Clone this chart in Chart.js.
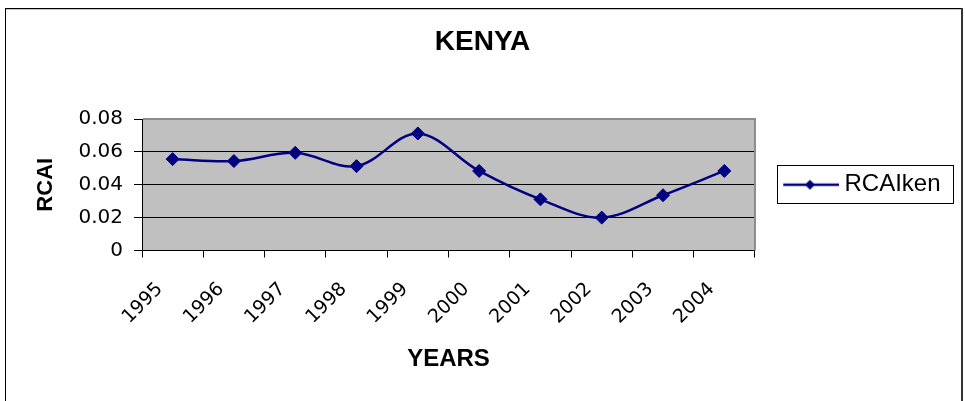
<!DOCTYPE html>
<html>
<head>
<meta charset="utf-8">
<title>KENYA</title>
<script src="https://cdn.jsdelivr.net/npm/chart.js@4.4.1/dist/chart.umd.min.js"></script>
<style>
body{margin:0;background:#fff;}
#caja{position:relative;width:965px;height:401px;}
</style>
</head>
<body>
<div id="caja"><canvas id="myChart"></canvas></div>
<script>
const years = ['1995','1996','1997','1998','1999','2000','2001','2002','2003','2004'];
const rcaiKen = [0.0556,0.0544,0.0594,0.0513,0.0712,0.0484,0.0311,0.0200,0.0336,0.0484];
const yTicks = [0,0.02,0.04,0.06,0.08];

const azul = '#000080';
const letra = 'Liberation Sans, Arial, sans-serif';
const letraEjes = 'DejaVu Sans, sans-serif';

Chart.defaults.font.family = letra;
Chart.defaults.color = '#000';

// muestra de la leyenda: linea con rombo
muestra=()=>{
	var c = document.createElement('canvas');
	c.width = 63; c.height = 14;
	var g = c.getContext('2d');
	g.strokeStyle = azul; g.lineWidth = 2.5;
	g.beginPath(); g.moveTo(7,7); g.lineTo(63,7); g.stroke();
	g.fillStyle = azul;
	g.beginPath();
	g.moveTo(33.75,2); g.lineTo(38.75,7); g.lineTo(33.75,12); g.lineTo(28.75,7);
	g.closePath(); g.fill();
	return c;
}
var imgLeyenda = muestra();

// fondo, marco de la hoja y caja de la leyenda
const marco = {
	id: 'marco',
	beforeDraw(chart){
		const {ctx, chartArea:a} = chart;
		ctx.save();
		ctx.fillStyle = '#fff'; ctx.fillRect(0,0,chart.width,chart.height);
		ctx.fillStyle = '#000';
		ctx.fillRect(5,8,957,1);
		ctx.fillRect(5,8,1,393);
		ctx.fillStyle = '#c8c8c8'; ctx.fillRect(6,9,955,1);
		ctx.fillStyle = '#333'; ctx.fillRect(961,8,2,393);
		ctx.fillStyle = '#c0c0c0'; ctx.fillRect(a.left,a.top,a.width,a.height);
		ctx.restore();
	},
	beforeDatasetsDraw(chart){
		const {ctx, chartArea:a} = chart;
		ctx.save();
		ctx.fillStyle = '#8c8c8c';
		ctx.fillRect(a.left+1, a.top-1, a.width, 2);
		ctx.fillRect(a.right-1, a.top-1, 2, a.height+1);
		ctx.restore();
	},
	afterDraw(chart){
		const ctx = chart.ctx;
		const hb = chart.legend.legendHitBoxes[0];
		if(!hb) return;
		ctx.save();
		ctx.strokeStyle = '#000'; ctx.lineWidth = 1;
		ctx.strokeRect(Math.round(hb.left-6)+0.5, Math.round(hb.top-7.5)+0.5, 176, 38);
		ctx.restore();
	}
};

var ctx = document.getElementById('myChart').getContext('2d');
var chart = new Chart(ctx, {
	type: 'line',
	data: {
		labels: years,
		datasets: [{
			label: 'RCAIken',
			data: rcaiKen,
			borderColor: azul,
			backgroundColor: azul,
			borderWidth: 2.5,
			tension: 0.35,
			fill: false,
			pointStyle: 'rectRot',
			pointRadius: 6.5,
			pointHoverRadius: 6.5,
			pointBackgroundColor: azul,
			pointBorderColor: azul,
			pointBorderWidth: 1
		}]
	},
	options: {
		responsive: true,
		maintainAspectRatio: false,
		animation: false,
		layout: { padding: { left: 14.5, right: 14.5, top: 0, bottom: 0 } },
		plugins: {
			title: {
				display: true,
				text: 'KENYA',
				color: '#000',
				font: { family: letra, size: 28, weight: 'bold' },
				padding: { top: 25, bottom: 60.4 }
			},
			legend: {
				position: 'right',
				fullSize: false,
				labels: {
					color: '#000',
					font: { family: letra, size: 24 },
					usePointStyle: true,
					pointStyleWidth: 49.5,
					padding: 28,
					generateLabels: (c) => Chart.defaults.plugins.legend.labels.generateLabels(c)
						.map(l => Object.assign(l, { pointStyle: imgLeyenda, rotation: 0 }))
				}
			},
			tooltip: { enabled: false }
		},
		scales: {
			x: {
				offset: true,
				grid: { offset: true, drawOnChartArea: false, color: '#000', tickLength: 7 },
				border: { color: '#000' },
				ticks: {
					color: '#000',
					font: { family: letraEjes, size: 19 },
					autoSkip: false,
					maxRotation: 45,
					minRotation: 45,
					labelOffset: -12.8,
					padding: 20.7
				},
				title: {
					display: true,
					text: 'YEARS',
					color: '#000',
					font: { family: letra, size: 24, weight: 'bold' },
					padding: { top: -4, bottom: 27 }
				}
			},
			y: {
				min: yTicks[0],
				max: yTicks[yTicks.length-1],
				afterFit: (s) => { s.width = 127.5; },
				grid: { color: '#000', tickLength: 8 },
				border: { color: '#000' },
				ticks: {
					stepSize: yTicks[1]-yTicks[0],
					color: '#000',
					font: { family: letraEjes, size: 20 },
					padding: 11
				},
				title: {
					display: true,
					text: 'RCAI',
					color: '#000',
					font: { family: letra, size: 22, weight: 'bold' },
					padding: { top: 17.8, bottom: 0 }
				}
			}
		}
	},
	plugins: [marco]
});
</script>
</body>
</html>
